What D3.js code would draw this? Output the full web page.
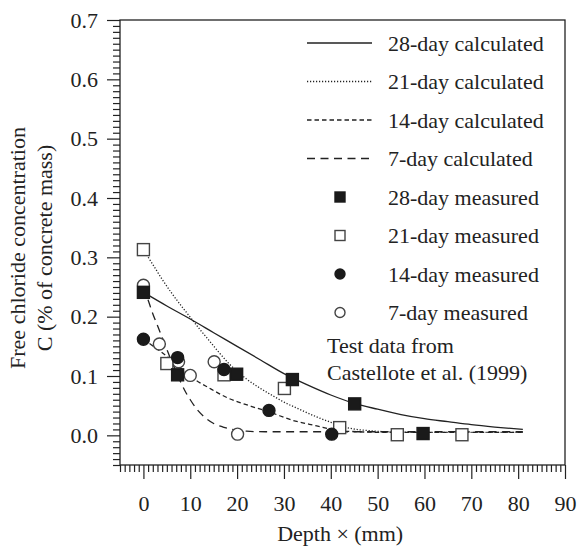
<!DOCTYPE html>
<html>
<head>
<meta charset="utf-8">
<script src="https://cdn.jsdelivr.net/npm/d3@7"></script>
<style>
  body { margin: 0; background: #fff; }
</style>
</head>
<body>
<div id="chart"></div>
<script>
// Free chloride profile: calculated curves vs measured points (Castellote et al. 1999)

// measured points [depth mm, C %]
const meas28 = [[0, 0.241], [7.3, 0.102], [19.9, 0.103], [31.8, 0.094], [45.1, 0.053], [59.7, 0.003]];
const meas21 = [[0, 0.313], [5.0, 0.121], [17.2, 0.102], [30.1, 0.079], [41.9, 0.013], [54.2, 0.001], [68.0, 0.001]];
const meas14 = [[0, 0.162], [7.3, 0.131], [17.2, 0.111], [26.8, 0.042], [40.2, 0.002]];
const meas7  = [[0, 0.253], [3.4, 0.154], [7.5, 0.124], [10.0, 0.101], [15.1, 0.124], [20.1, 0.002]];

// calculated curves
const calc28 = [[0, 0.241], [5, 0.218], [10, 0.196], [15, 0.173], [20, 0.150], [25, 0.127], [30, 0.104],
  [35, 0.085], [40, 0.068], [45, 0.054], [50, 0.044], [55, 0.035], [60, 0.028], [65, 0.023],
  [70, 0.018], [75, 0.014], [81, 0.010]];
const calc21 = [[0, 0.313], [2, 0.288], [4, 0.263], [6, 0.240], [8, 0.219], [10, 0.199], [12, 0.179],
  [14, 0.160], [16, 0.141], [18, 0.123], [20, 0.108], [22, 0.095], [25, 0.079], [28, 0.065],
  [30, 0.056], [33, 0.045], [37, 0.031], [40, 0.022], [44, 0.012], [48, 0.008], [52, 0.006],
  [60, 0.005], [81, 0.005]];
const calc14 = [[0, 0.162], [3, 0.145], [6, 0.127], [8, 0.113], [11, 0.094], [14, 0.080], [18, 0.063],
  [23, 0.049], [27, 0.039], [32, 0.025], [37, 0.016], [41, 0.009], [46, 0.006], [52, 0.005], [81, 0.005]];
const calc7 = [[0, 0.250], [1, 0.228], [2, 0.205], [3, 0.185], [4, 0.165], [5, 0.145], [6, 0.125],
  [7, 0.107], [8, 0.089], [9, 0.073], [10, 0.060], [11.5, 0.043], [13, 0.031], [15, 0.020],
  [17, 0.014], [19, 0.010], [22, 0.007], [26, 0.006], [81, 0.006]];

const xMajor = [0, 10, 20, 30, 40, 50, 60, 70, 80, 90];
const yMajor = [0.0, 0.1, 0.2, 0.3, 0.4, 0.5, 0.6, 0.7];

const lineLegend = ["28-day calculated", "21-day calculated", "14-day calculated", "7-day calculated"];
const markLegend = ["28-day measured", "21-day measured", "14-day measured", "7-day measured"];
const note = ["Test data from", "Castellote et al. (1999)"];

const WIDTH = 579, HEIGHT = 547;
const margin = {top: 20, right: 14, bottom: 82, left: 120};
const innerW = WIDTH - margin.left - margin.right;
const innerH = HEIGHT - margin.top - margin.bottom;
const FS = 22;
const FONT = "'Liberation Serif', 'Times New Roman', Times, serif";

const svg = d3.select("#chart").append("svg")
  .attr("width", WIDTH).attr("height", HEIGHT)
  .attr("font-family", FONT);
const g = svg.append("g").attr("transform", `translate(${margin.left},${margin.top})`);

const x = d3.scaleLinear().domain([-5, 90]).range([0, innerW]);
const y = d3.scaleLinear().domain([-0.05, 0.7]).range([innerH, 0]);

// minor ticks
const xMinor = d3.range(-5, 90.001, 1).filter(v => !xMajor.includes(Math.round(v)));
const yMinor = d3.range(-5, 70.001, 1).map(v => v / 100).filter(v => Math.round(v * 100) % 10 !== 0);

function styleAxis(sel) {
  sel.attr("font-family", FONT);
  sel.select(".domain").remove();
  sel.selectAll("line").attr("stroke", "#222").attr("stroke-width", 1.2);
  sel.selectAll("text").attr("font-size", FS).attr("fill", "#222").attr("font-family", FONT);
}

g.append("g").attr("transform", `translate(0,${innerH})`)
  .call(d3.axisBottom(x).tickValues(xMinor).tickSize(7).tickFormat(""))
  .call(styleAxis);
g.append("g").attr("transform", `translate(0,${innerH})`)
  .call(d3.axisBottom(x).tickValues(xMajor).tickSize(14).tickPadding(16).tickFormat(d3.format("d")))
  .call(styleAxis);
g.append("g")
  .call(d3.axisLeft(y).tickValues(yMinor).tickSize(7).tickFormat(""))
  .call(styleAxis);
g.append("g")
  .call(d3.axisLeft(y).tickValues(yMajor).tickSize(13).tickPadding(9).tickFormat(d3.format(".1f")))
  .call(styleAxis);

// frame
g.append("rect").attr("width", innerW).attr("height", innerH)
  .attr("fill", "none").attr("stroke", "#222").attr("stroke-width", 1.3);

// axis titles
svg.append("text")
  .attr("x", margin.left + x(42)).attr("y", 541)
  .attr("text-anchor", "middle").attr("font-size", FS).attr("fill", "#222")
  .text("Depth \u00d7 (mm)");
const yl = svg.append("text")
  .attr("transform", `translate(0,248) rotate(-90)`)
  .attr("text-anchor", "middle").attr("font-size", FS).attr("fill", "#222");
yl.append("tspan").attr("x", 0).attr("y", 25).text("Free chloride concentration");
yl.append("tspan").attr("x", 0).attr("y", 52).text("C (% of concrete mass)");

// curves
const dashes = [null, "1.2,1.8", "4.5,3", "8,5.5"];
const calcs = [calc28, calc21, calc14, calc7];
const line = d3.line().x(d => x(d[0])).y(d => y(d[1])).curve(d3.curveMonotoneX);
calcs.forEach((c, i) => {
  g.append("path").datum(c)
    .attr("d", line)
    .attr("fill", "none")
    .attr("stroke", "#222")
    .attr("stroke-width", 1.3)
    .attr("stroke-dasharray", dashes[i]);
});

// markers
function drawMarker(sel, kind, cx, cy, s) {
  if (kind === 0 || kind === 1) {
    sel.append("rect")
      .attr("x", cx - s / 2).attr("y", cy - s / 2).attr("width", s).attr("height", s)
      .attr("fill", kind === 0 ? "#1a1a1a" : "#fff")
      .attr("stroke", kind === 0 ? "#1a1a1a" : "#444").attr("stroke-width", 1.4);
  } else {
    sel.append("circle")
      .attr("cx", cx).attr("cy", cy).attr("r", s / 2)
      .attr("fill", kind === 2 ? "#1a1a1a" : "#fff")
      .attr("stroke", kind === 2 ? "#1a1a1a" : "#444").attr("stroke-width", 1.4);
  }
}
const measured = [meas28, meas21, meas14, meas7];
// draw order: 7-day open circles first so filled marks sit on top
[3, 1, 2, 0].forEach(k => {
  const grp = g.append("g");
  measured[k].forEach(d => drawMarker(grp, k, x(d[0]), y(d[1]), 12));
});

// legend
const lg = svg.append("g");
const rowY = i => 43 + i * 38.5;
lineLegend.forEach((t, i) => {
  lg.append("line")
    .attr("x1", 307).attr("x2", 372).attr("y1", rowY(i)).attr("y2", rowY(i))
    .attr("stroke", "#222").attr("stroke-width", 1.3)
    .attr("stroke-dasharray", dashes[i]);
  lg.append("text").attr("x", 388).attr("y", rowY(i)).attr("dy", "0.35em")
    .attr("font-size", FS).attr("fill", "#222").text(t);
});
markLegend.forEach((t, i) => {
  drawMarker(lg, i, 340, rowY(i + 4), 10);
  lg.append("text").attr("x", 388).attr("y", rowY(i + 4)).attr("dy", "0.35em")
    .attr("font-size", FS).attr("fill", "#222").text(t);
});
note.forEach((t, i) => {
  lg.append("text").attr("x", 327).attr("y", 345 + i * 27).attr("dy", "0.35em")
    .attr("font-size", FS).attr("fill", "#222").text(t);
});
</script>
</body>
</html>
